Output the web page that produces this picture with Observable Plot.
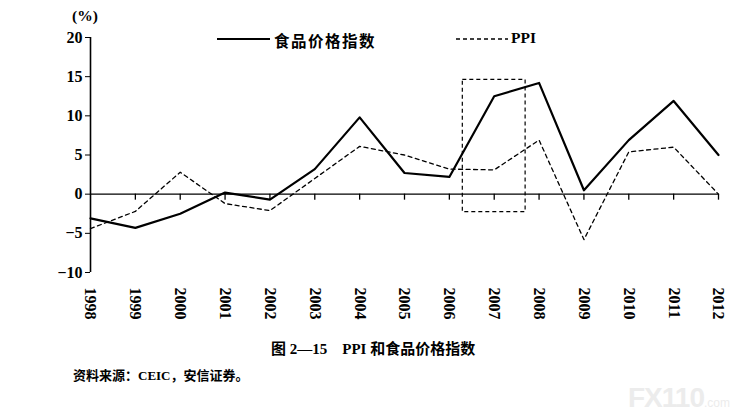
<!DOCTYPE html>
<html>
<head>
<meta charset="utf-8">
<script src="https://cdn.jsdelivr.net/npm/d3@7"></script>
<script src="https://cdn.jsdelivr.net/npm/@observablehq/plot@0.6"></script>
<style>
  html, body { margin: 0; padding: 0; background: #fff; }
  #page { position: relative; width: 752px; height: 419px; overflow: hidden; }
  #chart { position: absolute; left: 0; top: 0; }
  .serif { font-family: "Liberation Serif", "DejaVu Serif", serif; font-weight: bold; }
  .cjk { font-family: "Liberation Serif", "Noto Sans CJK SC", serif; font-weight: bold; }
  .abs { position: absolute; white-space: nowrap; color: #000; }
</style>
</head>
<body>
<div id="page">
  <div id="chart"></div>
  <div class="abs serif" style="left:72px; top:7px; font-size:15.5px;">(%)</div>
  <div id="legend"></div>
  <div class="abs cjk" style="left:271px; top:337px; font-size:15px;">图 2—15&nbsp;&nbsp;&nbsp; PPI 和食品价格指数</div>
  <div class="abs cjk" style="left:73px; top:365px; font-size:13px;">资料来源：CEIC，安信证券。</div>
  <div class="abs" style="left:628px; top:382px; font-family:'Liberation Sans Narrow','Liberation Sans',sans-serif; font-weight:bold; font-size:28px; color:#ececec; letter-spacing:-1px;">FX110<span style="font-size:12px; font-weight:normal; letter-spacing:0;">.com</span></div>
</div>
<script>
const years = [1998, 1999, 2000, 2001, 2002, 2003, 2004, 2005, 2006, 2007, 2008, 2009, 2010, 2011, 2012];
const foodIndex = [-3.1, -4.3, -2.5, 0.2, -0.7, 3.2, 9.8, 2.7, 2.2, 12.5, 14.2, 0.5, 6.9, 11.9, 5.0];
const ppi = [-4.4, -2.2, 2.8, -1.2, -2.1, 2.0, 6.1, 5.0, 3.2, 3.1, 6.9, -5.8, 5.4, 6.0, 0.0];
const yTicks = [-10, -5, 0, 5, 10, 15, 20];
const seriesNames = ["食品价格指数", "PPI"];
// highlighted period box: [x1, x2, y1, y2]
const highlight = [{x1: 2006.3, x2: 2007.7, y1: -2.3, y2: 14.6}];

const rows = years.map((yr, i) => ({year: yr, food: foodIndex[i], ppi: ppi[i]}));

const chart = Plot.plot({
  width: 752,
  height: 325,
  marginLeft: 90,
  marginRight: 34,
  marginTop: 37,
  marginBottom: 53,
  style: {fontFamily: "'Liberation Serif', serif", fontWeight: "bold", fontSize: "16px", color: "#000", background: "#fff"},
  x: {domain: [1998, 2012]},
  y: {domain: [-10, 20]},
  marks: [
    Plot.axisY({ticks: yTicks, tickSize: 5, tickPadding: 3, label: null, tickFormat: d => d < 0 ? "\u2212" + Math.abs(d) : String(d), fontSize: 16, fontWeight: "bold"}),
    Plot.axisX({ticks: years, tickSize: 0, tickPadding: 15, tickRotate: 90, label: null, tickFormat: d => String(d), fontSize: 16, fontWeight: "bold"}),
    Plot.ruleX([1998], {stroke: "#000", strokeWidth: 1.6}),
    Plot.ruleY([0], {stroke: "#000", strokeWidth: 1.3}),
    Plot.ruleX(years.slice(1), {x: d => d, y1: 0, y2: 0, insetBottom: -6, stroke: "#000", strokeWidth: 1.3}),
    Plot.rect(highlight, {x1: "x1", x2: "x2", y1: "y1", y2: "y2", fill: "none", stroke: "#000", strokeWidth: 1.2, strokeDasharray: "4,3"}),
    Plot.line(rows, {x: "year", y: "ppi", stroke: "#000", strokeWidth: 1.3, strokeDasharray: "4,3.5"}),
    Plot.line(rows, {x: "year", y: "food", stroke: "#000", strokeWidth: 2.2})
  ]
});
document.getElementById("chart").appendChild(chart);

// legend inside the plot area
const leg = document.getElementById("legend");
leg.innerHTML = `
  <svg class="abs" style="left:216px; top:33px;" width="56" height="12"><line x1="1" x2="54" y1="6" y2="6" stroke="#000" stroke-width="2.2"/></svg>
  <div class="abs cjk" style="left:274px; top:29px; font-size:15.5px; letter-spacing:1.5px;">${seriesNames[0]}</div>
  <svg class="abs" style="left:455px; top:33px;" width="56" height="12"><line x1="1" x2="53" y1="6" y2="6" stroke="#000" stroke-width="1.3" stroke-dasharray="4,3"/></svg>
  <div class="abs serif" style="left:511px; top:29px; font-size:15.5px;">${seriesNames[1]}</div>
`;
</script>
</body>
</html>
